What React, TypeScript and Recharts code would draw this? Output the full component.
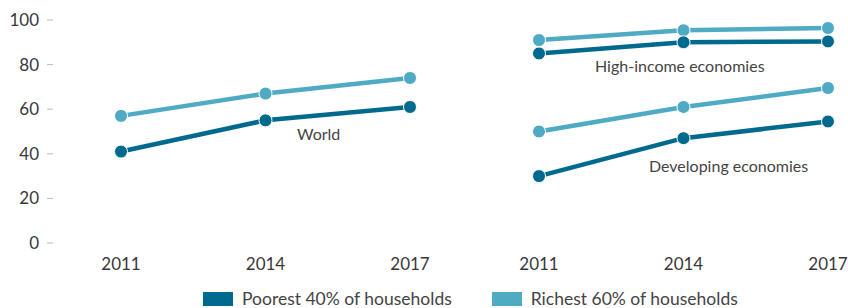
import { LineChart, Line, XAxis, YAxis } from "recharts";

const years = ["2011", "2014", "2017"];
const yTicks = [0, 20, 40, 60, 80, 100];

const worldPoorest = [41, 55, 61];
const worldRichest = [57, 67, 74];
const highPoorest = [85, 90, 90.4];
const highRichest = [91, 95.4, 96.4];
const devPoorest = [30, 47, 54.5];
const devRichest = [50, 61, 69.5];

const POOR = "#006a8e";
const RICH = "#4eabc3";
const FONT = "Lato, 'Open Sans', sans-serif";

const leftData = years.map((y, i) => ({ year: y, poor: worldPoorest[i], rich: worldRichest[i] }));
const rightData = years.map((y, i) => ({
  year: y,
  highPoor: highPoorest[i],
  highRich: highRichest[i],
  devPoor: devPoorest[i],
  devRich: devRichest[i],
}));

const tickStyle = { fontSize: 17, fill: "#383838", fontFamily: FONT };

const series = (key: string, color: string) => (
  <Line
    key={key}
    dataKey={key}
    stroke={color}
    strokeWidth={4.5}
    dot={{ r: 6.5, fill: color, stroke: "#fff", strokeWidth: 1 }}
    isAnimationActive={false}
  />
);

const Note = ({ text, x, y }: { text: string; x: number; y: number }) => (
  <div
    style={{
      position: "absolute",
      left: x,
      top: y - 10,
      lineHeight: "20px",
      fontSize: 16,
      fontFamily: FONT,
      color: "#444",
      whiteSpace: "nowrap",
    }}
  >
    {text}
  </div>
);

const LegendItem = ({ color, label }: { color: string; label: string }) => (
  <div style={{ display: "flex", alignItems: "center" }}>
    <div style={{ width: 30, height: 14, background: color, marginRight: 9 }} />
    <span style={{ fontSize: 17.5, fontFamily: FONT, color: "#444" }}>{label}</span>
  </div>
);

export default function App() {
  return (
    <div style={{ position: "absolute", left: 0, top: 0, width: 848, height: 308, overflow: "hidden", background: "#fff" }}>
      <div style={{ position: "absolute", left: 0, top: 0 }}>
        <LineChart width={440} height={280} data={leftData} margin={{ top: 20, right: 0, bottom: 0, left: 0 }}>
          <XAxis
            dataKey="year"
            axisLine={false}
            tickLine={false}
            tickSize={0}
            tickMargin={15}
            height={37}
            padding={{ left: 68, right: 30 }}
            tick={tickStyle}
          />
          <YAxis
            width={53}
            domain={[0, 100]}
            ticks={yTicks}
            axisLine={false}
            tickLine={{ stroke: "#bbb" }}
            tickSize={6}
            tickMargin={8}
            tick={tickStyle}
          />
          {series("rich", RICH)}
          {series("poor", POOR)}
        </LineChart>
      </div>
      <div style={{ position: "absolute", left: 440, top: 0 }}>
        <LineChart width={408} height={280} data={rightData} margin={{ top: 20, right: 0, bottom: 0, left: 0 }}>
          <XAxis
            dataKey="year"
            axisLine={false}
            tickLine={false}
            tickSize={0}
            tickMargin={15}
            height={37}
            padding={{ left: 99, right: 20 }}
            tick={tickStyle}
          />
          <YAxis hide domain={[0, 100]} />
          {series("highRich", RICH)}
          {series("highPoor", POOR)}
          {series("devRich", RICH)}
          {series("devPoor", POOR)}
        </LineChart>
      </div>
      <Note text="World" x={297} y={134} />
      <Note text="High-income economies" x={595} y={66} />
      <Note text="Developing economies" x={649} y={166} />
      <div style={{ position: "absolute", left: 203, top: 288, display: "flex", gap: 40 }}>
        <LegendItem color={POOR} label="Poorest 40% of households" />
        <LegendItem color={RICH} label="Richest 60% of households" />
      </div>
    </div>
  );
}
